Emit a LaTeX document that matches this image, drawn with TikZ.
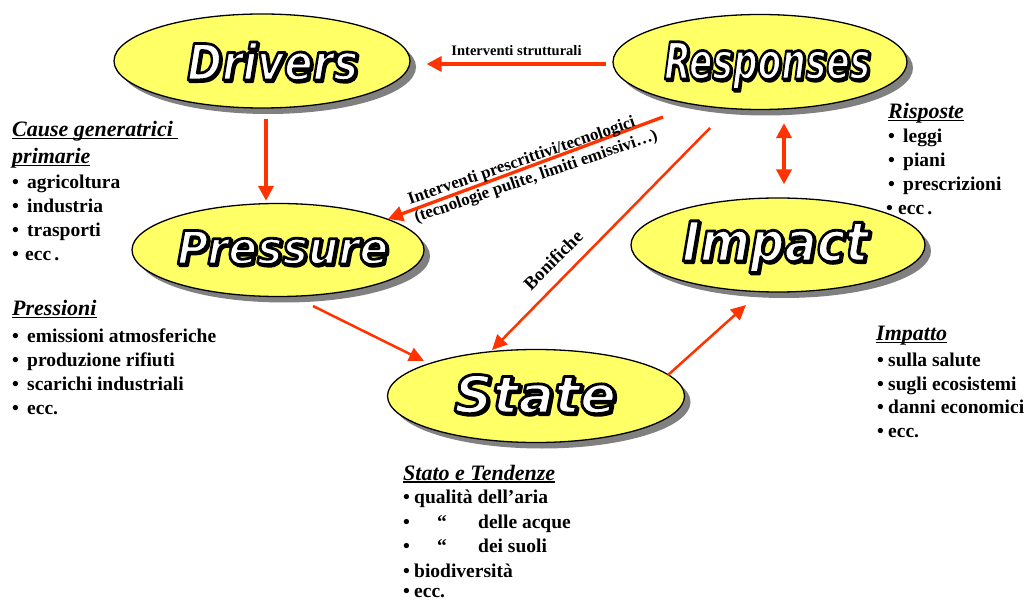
\documentclass[tikz,border=0pt]{standalone}
\usepackage{fontspec}
\setmainfont{Liberation Serif}
\newfontfamily\ttlfont{DejaVu Sans}
\usetikzlibrary{shapes.geometric,arrows.meta,shadows}
\definecolor{ellfill}{RGB}{255,255,102}
\definecolor{arrred}{RGB}{255,51,0}
\definecolor{shgray}{RGB}{128,128,128}
\newcommand\strk{\special{pdf:literal direct 0 G 2 Tr 2.8 w 1 j}}
\newcommand\unstrk{\special{pdf:literal direct 0 Tr 0.4 w 0 j}}
\newcommand\outl[1]{{\setbox0\hbox{#1}%
 \rlap{\kern1.6pt\raise-1.6pt\hbox{\color{black}\strk\copy0\unstrk}}%
 \hbox{\color{white}\strk\copy0\unstrk}}}
\newcommand\ttl[3]{\outl{\resizebox{#1}{\height}{\ttlfont\bfseries\itshape\fontsize{#2}{#2}\selectfont #3}}}
\newcommand\uln[1]{\setbox0\hbox{#1}\rlap{\rule[-2.5pt]{\wd0}{1.4pt}}\box0}
\newcommand\bl[2]{\makebox[#1][l]{•}#2}
\tikzset{
 ell/.style={ellipse, draw=black, line width=1.3pt, fill=ellfill, inner sep=0pt,
   drop shadow={shadow xshift=6pt, shadow yshift=-6pt, fill=shgray, opacity=1}},
 ttext/.style={anchor=base west, inner sep=0pt},
 itm/.style={anchor=base west, inner sep=0pt, font=\fontsize{19.5}{23}\selectfont\bfseries},
 hd/.style={anchor=base west, inner sep=0pt, font=\fontsize{22}{26}\selectfont\bfseries\itshape},
 lbl/.style={inner sep=0pt, font=\bfseries},
 thickarr/.style={draw=arrred, line width=4pt, -{Triangle[length=15pt,width=15pt]}},
 midarr/.style={draw=arrred, line width=3.3pt, -{Triangle[length=15pt,width=15pt]}},
 thinarr/.style={draw=arrred, line width=2.5pt, -{Triangle[length=15pt,width=14pt]}}
}
\begin{document}
\begin{tikzpicture}[x=1pt,y=-1pt]
\fill[white] (0,0) rectangle (1030,601);
\useasboundingbox (0,0) rectangle (1030,601);

% ellipses
\node[ell, minimum width=296pt, minimum height=94pt] (D) at (262,61) {};
\node[ell, minimum width=294pt, minimum height=95pt] (R) at (760,62) {};
\node[ell, minimum width=292pt, minimum height=93pt] (P) at (278,250) {};
\node[ell, minimum width=294pt, minimum height=94pt] (I) at (778,245) {};
\node[ell, minimum width=297pt, minimum height=93pt] (S) at (536,396) {};

% titles
\node[ttext] (Dt) at (187,80) {\ttl{171pt}{50}{Drivers}};
\node[ttext] (Rt) at (664,79) {\ttl{206pt}{51}{Responses}};
\node[ttext] (Pt) at (177,264) {\ttl{211pt}{46}{Pressure}};
\node[ttext] (It) at (682,261) {\ttl{186pt}{55}{Impact}};
\node[ttext] (St) at (454,413) {\ttl{162pt}{52}{State}};

% connectors
\draw[thickarr] ([shift={(-6,2)}]R.west) -- ([shift={(16,3)}]D.east)
  node[lbl, midway, above=6pt, font=\fontsize{14.5}{16}\selectfont\bfseries] (L1) {Interventi strutturali};
\draw[thickarr] ([shift={(4,10)}]D.south) -- ([shift={(-12,-2)}]P.north);
\draw[thickarr, {Triangle[length=15pt,width=15pt]}-{Triangle[length=15pt,width=15pt]}]
  ([shift={(24,13)}]R.south) -- ([shift={(6,-13)}]I.north);
\draw[midarr] ([shift={(-97,55)}]R.center) -- ([shift={(110,-31)}]P.center);
\node[lbl, rotate=19, align=left, font=\fontsize{17}{19.5}\selectfont\bfseries] (L2) at (533,168)
  {Interventi prescrittivi/tecnologici\\(tecnologie pulite, limiti emissivi…)};
\draw[thinarr] ([shift={(-50,66)}]R.center) -- ([shift={(-44,-46)}]S.center);
\node[lbl, rotate=45, font=\fontsize{18.5}{20}\selectfont\bfseries] (L3) at (553,260) {Bonifiche};
\draw[thinarr] ([shift={(35,56)}]P.center) -- ([shift={(-112,-35)}]S.center);
\draw[thinarr] ([shift={(132,-21)}]S.center) -- ([shift={(-32,60)}]I.center);

% left text
\node[hd] (h1) at (12,137) {\uln{Cause generatrici\ }};
\node[hd] (h2) at (12,164) {\uln{primarie}};
\node[itm] (a1) at (12,189) {\bl{15pt}{agricoltura}};
\node[itm] (a2) at (12,213) {\bl{15pt}{industria}};
\node[itm] (a3) at (12,237) {\bl{15pt}{trasporti}};
\node[itm] (a4) at (12,261) {\bl{13pt}{ecc\,.}};
\node[hd] (h3) at (12,316) {\uln{Pressioni}};
\node[itm] (b1) at (12,342) {\bl{15pt}{emissioni atmosferiche}};
\node[itm] (b2) at (12,366) {\bl{15pt}{produzione rifiuti}};
\node[itm] (b3) at (12,390) {\bl{15pt}{scarichi industriali}};
\node[itm] (b4) at (12,414) {\bl{15pt}{ecc.}};

% Risposte
\node[hd] (h4) at (888,119) {\uln{Risposte}};
\node[itm] (c1) at (888,143) {\bl{15pt}{leggi}};
\node[itm] (c2) at (888,167) {\bl{15pt}{piani}};
\node[itm] (c3) at (888,191) {\bl{15pt}{prescrizioni}};
\node[itm] (c4) at (886,215) {\bl{12pt}{ecc\,.}};

% Impatto
\node[hd] (h5) at (876,341) {\uln{Impatto}};
\node[itm] (d1) at (877,366) {\bl{11pt}{sulla salute}};
\node[itm] (d2) at (877,390) {\bl{11pt}{sugli ecosistemi}};
\node[itm] (d3) at (877,413) {\bl{11pt}{danni economici}};
\node[itm] (d4) at (877,437) {\bl{11pt}{ecc.}};

% Stato
\node[hd] (h6) at (403,480) {\uln{Stato e Tendenze}};
\node[itm] (e1) at (403,503) {\bl{11pt}{qualità dell’aria}};
\node[itm] (e2) at (403,528) {\makebox[34pt][l]{•}\makebox[41pt][l]{“}delle acque};
\node[itm] (e3) at (403,552) {\makebox[34pt][l]{•}\makebox[41pt][l]{“}dei suoli};
\node[itm] (e4) at (403,577) {\bl{11pt}{biodiversità}};
\node[itm] (e5) at (403,597) {\bl{11pt}{ecc.}};
\end{tikzpicture}
\end{document}
